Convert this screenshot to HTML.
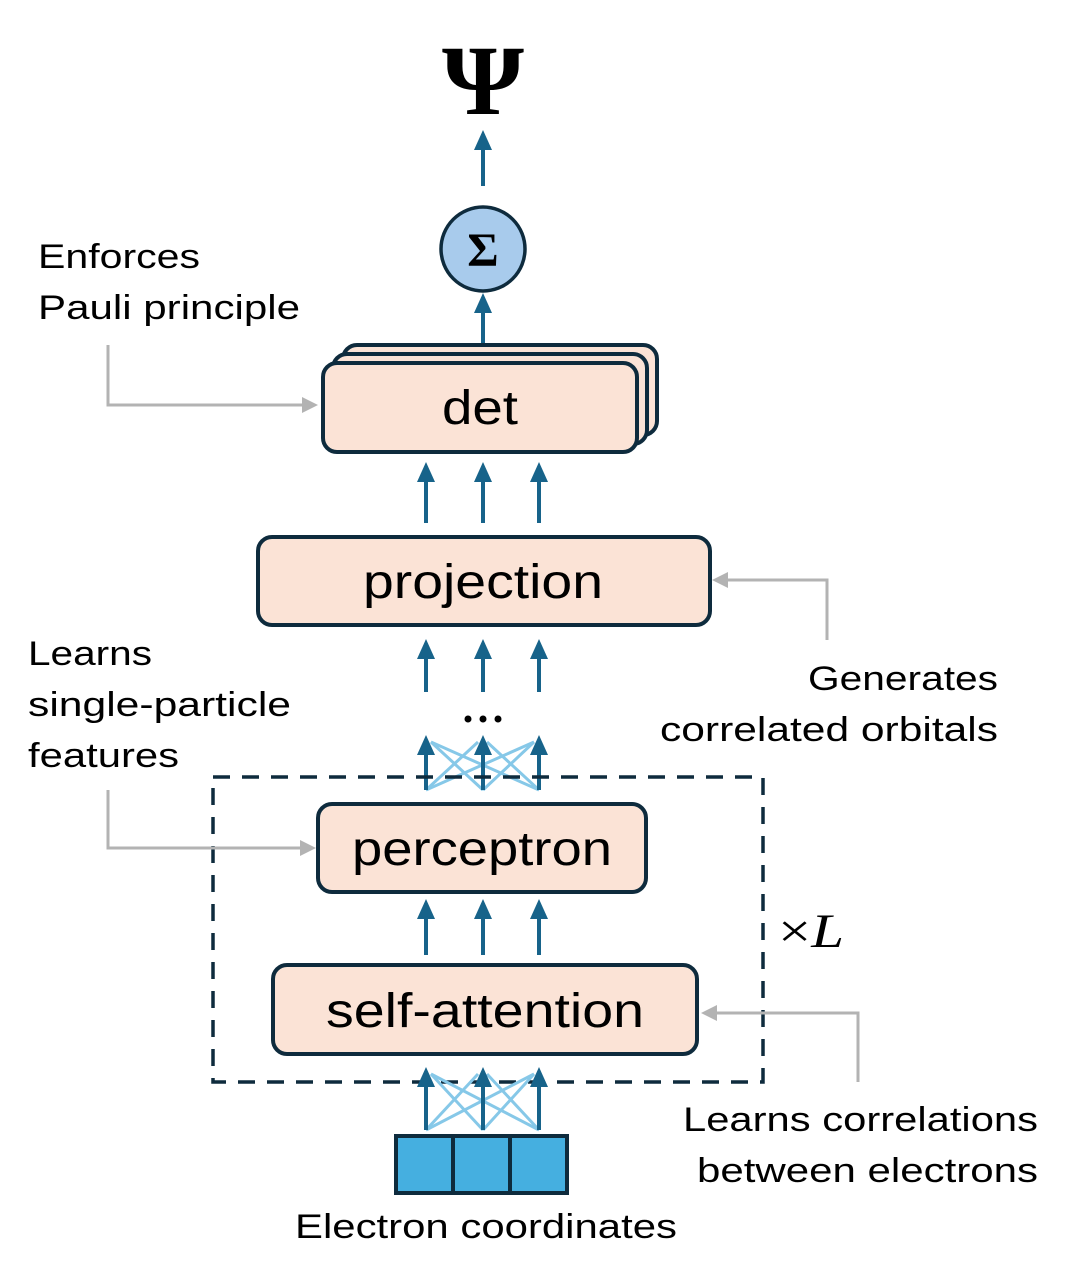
<!DOCTYPE html>
<html><head><meta charset="utf-8"><style>
html,body{margin:0;padding:0;background:#fff;}
svg{display:block;}
text{font-family:"Liberation Sans",sans-serif;fill:#000;}
</style></head><body>
<svg width="1068" height="1280" viewBox="0 0 1068 1280" xmlns="http://www.w3.org/2000/svg">
<style>
.box{fill:#fbe3d6;stroke:#0e2b3d;stroke-width:4;}
.ar{stroke:#17638a;stroke-width:4;}
.ah{fill:#17638a;}
.la{stroke:#86c8e8;stroke-width:3;}
.g{stroke:#b3b3b3;stroke-width:3;fill:none;}
.gh{fill:#b3b3b3;}
</style>

<!-- Psi -->
<text x="483" y="114" font-size="100" font-weight="bold" text-anchor="middle" textLength="82" lengthAdjust="spacingAndGlyphs" style="font-family:'Liberation Serif',serif">Ψ</text>

<line class="ar" x1="483" y1="186" x2="483" y2="145"/>
<polygon class="ah" points="474,150 492,150 483,130"/>

<circle cx="483" cy="249" r="42" fill="#a8cbec" stroke="#0e2b3d" stroke-width="3.5"/>
<text x="483" y="266" font-size="48" font-weight="bold" text-anchor="middle" style="font-family:'Liberation Serif',serif">Σ</text>

<line class="ar" x1="483" y1="352" x2="483" y2="308"/>
<polygon class="ah" points="474,313 492,313 483,293"/>

<rect class="box" x="343" y="345" width="314" height="90" rx="14"/>
<rect class="box" x="333" y="354" width="314" height="90" rx="14"/>
<rect class="box" x="323" y="363" width="314" height="89" rx="14"/>
<text x="480" y="424" font-size="48" text-anchor="middle" textLength="76" lengthAdjust="spacingAndGlyphs">det</text>

<g>
<line class="ar" x1="426" y1="523" x2="426" y2="478"/><polygon class="ah" points="417,482 435,482 426,462"/>
<line class="ar" x1="483" y1="523" x2="483" y2="478"/><polygon class="ah" points="474,482 492,482 483,462"/>
<line class="ar" x1="539" y1="523" x2="539" y2="478"/><polygon class="ah" points="530,482 548,482 539,462"/>
</g>

<rect class="box" x="258" y="537" width="452" height="88" rx="14"/>
<text x="483" y="598" font-size="48" text-anchor="middle" textLength="240" lengthAdjust="spacingAndGlyphs">projection</text>

<g>
<line class="ar" x1="426" y1="692" x2="426" y2="655"/><polygon class="ah" points="417,659 435,659 426,639"/>
<line class="ar" x1="483" y1="692" x2="483" y2="655"/><polygon class="ah" points="474,659 492,659 483,639"/>
<line class="ar" x1="539" y1="692" x2="539" y2="655"/><polygon class="ah" points="530,659 548,659 539,639"/>
</g>
<circle cx="468" cy="719" r="3.5" fill="#000"/>
<circle cx="483" cy="719" r="3.5" fill="#000"/>
<circle cx="498" cy="719" r="3.5" fill="#000"/>

<g>
<line class="la" x1="426" y1="790" x2="478" y2="742"/>
<line class="la" x1="426" y1="790" x2="534" y2="742"/>
<line class="la" x1="483" y1="790" x2="431" y2="742"/>
<line class="la" x1="483" y1="790" x2="534" y2="742"/>
<line class="la" x1="539" y1="790" x2="431" y2="742"/>
<line class="la" x1="539" y1="790" x2="487" y2="742"/>
<line class="ar" x1="426" y1="790" x2="426" y2="750"/><polygon class="ah" points="417,755 435,755 426,735"/>
<line class="ar" x1="483" y1="790" x2="483" y2="750"/><polygon class="ah" points="474,755 492,755 483,735"/>
<line class="ar" x1="539" y1="790" x2="539" y2="750"/><polygon class="ah" points="530,755 548,755 539,735"/>
</g>

<rect x="213" y="777" width="550" height="305" fill="none" stroke="#0e2b3d" stroke-width="3.5" stroke-dasharray="17,12"/>

<rect class="box" x="318" y="804" width="328" height="88" rx="14"/>
<text x="482" y="865" font-size="48" text-anchor="middle" textLength="260" lengthAdjust="spacingAndGlyphs">perceptron</text>

<g>
<line class="ar" x1="426" y1="955" x2="426" y2="915"/><polygon class="ah" points="417,919 435,919 426,899"/>
<line class="ar" x1="483" y1="955" x2="483" y2="915"/><polygon class="ah" points="474,919 492,919 483,899"/>
<line class="ar" x1="539" y1="955" x2="539" y2="915"/><polygon class="ah" points="530,919 548,919 539,899"/>
</g>

<rect class="box" x="273" y="965" width="424" height="89" rx="14"/>
<text x="485" y="1027" font-size="48" text-anchor="middle" textLength="318" lengthAdjust="spacingAndGlyphs">self-attention</text>

<g>
<line class="la" x1="426" y1="1130" x2="478" y2="1074"/>
<line class="la" x1="426" y1="1130" x2="534" y2="1074"/>
<line class="la" x1="483" y1="1130" x2="431" y2="1074"/>
<line class="la" x1="483" y1="1130" x2="534" y2="1074"/>
<line class="la" x1="539" y1="1130" x2="431" y2="1074"/>
<line class="la" x1="539" y1="1130" x2="487" y2="1074"/>
<line class="ar" x1="426" y1="1130" x2="426" y2="1082"/><polygon class="ah" points="417,1087 435,1087 426,1067"/>
<line class="ar" x1="483" y1="1130" x2="483" y2="1082"/><polygon class="ah" points="474,1087 492,1087 483,1067"/>
<line class="ar" x1="539" y1="1130" x2="539" y2="1082"/><polygon class="ah" points="530,1087 548,1087 539,1067"/>
</g>

<rect x="396" y="1136" width="171" height="57" fill="#45afe0" stroke="#0e2b3d" stroke-width="4"/>
<line x1="453" y1="1136" x2="453" y2="1193" stroke="#0e2b3d" stroke-width="4"/>
<line x1="510" y1="1136" x2="510" y2="1193" stroke="#0e2b3d" stroke-width="4"/>
<text x="486" y="1238" font-size="34" text-anchor="middle" textLength="382" lengthAdjust="spacingAndGlyphs">Electron coordinates</text>

<text x="778" y="947" font-size="48" textLength="66" lengthAdjust="spacingAndGlyphs" style="font-family:'Liberation Serif',serif">×<tspan font-style="italic">L</tspan></text>

<text x="38" y="268" font-size="34" textLength="162" lengthAdjust="spacingAndGlyphs">Enforces</text>
<text x="38" y="319" font-size="34" textLength="262" lengthAdjust="spacingAndGlyphs">Pauli principle</text>
<path class="g" d="M108,345 V405 H305"/>
<polygon class="gh" points="302,397 318,405 302,413"/>

<text x="28" y="665" font-size="34" textLength="124" lengthAdjust="spacingAndGlyphs">Learns</text>
<text x="28" y="716" font-size="34" textLength="263" lengthAdjust="spacingAndGlyphs">single-particle</text>
<text x="28" y="767" font-size="34" textLength="151" lengthAdjust="spacingAndGlyphs">features</text>
<path class="g" d="M108,790 V848 H303"/>
<polygon class="gh" points="300,840 316,848 300,856"/>

<text x="998" y="690" font-size="34" text-anchor="end" textLength="190" lengthAdjust="spacingAndGlyphs">Generates</text>
<text x="998" y="741" font-size="34" text-anchor="end" textLength="338" lengthAdjust="spacingAndGlyphs">correlated orbitals</text>
<path class="g" d="M827,640 V580 H725"/>
<polygon class="gh" points="728,572 712,580 728,588"/>

<text x="1038" y="1131" font-size="34" text-anchor="end" textLength="355" lengthAdjust="spacingAndGlyphs">Learns correlations</text>
<text x="1038" y="1182" font-size="34" text-anchor="end" textLength="341" lengthAdjust="spacingAndGlyphs">between electrons</text>
<path class="g" d="M858,1082 V1013 H714"/>
<polygon class="gh" points="717,1005 701,1013 717,1021"/>
</svg>
</body></html>
